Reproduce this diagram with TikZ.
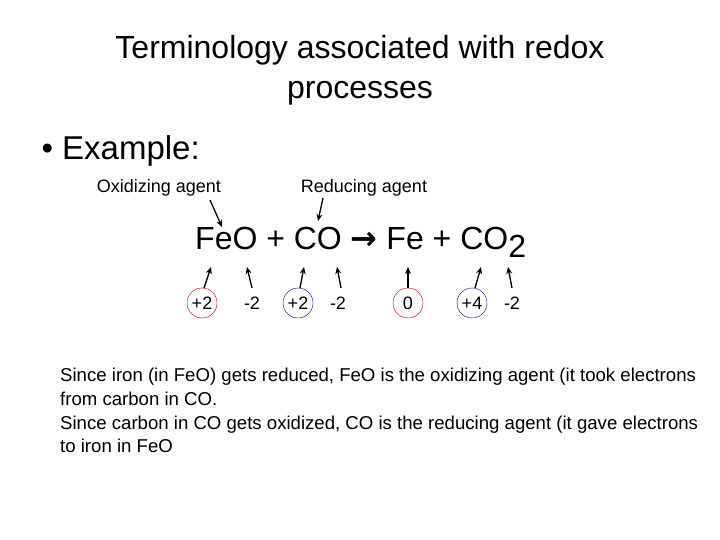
\documentclass[tikz,border=0pt]{standalone}
\usepackage{fontspec}
\setmainfont{Liberation Sans}
\newfontfamily\symfont{DejaVu Sans}
\usetikzlibrary{arrows.meta}
\tikzset{
	ox/.style={font=\fontsize{18}{20}\selectfont,inner sep=1pt},
	ring/.style={ox,circle,draw,minimum size=30pt},
	pt/.style={-{Stealth[length=7pt,width=6pt]},line width=1.3pt},
}
\begin{document}
\begin{tikzpicture}[x=1pt,y=-1pt]
	\useasboundingbox (0,0) rectangle (720,540);
	% Title
	\node[align=center,font=\fontsize{32}{40}\selectfont] (title) at (360,70) {Terminology associated with redox\\processes};
	\node[anchor=west,font=\fontsize{33}{35}\selectfont] (ex) at (38,151) {\textbullet\ Example:};
	
	% Agents
	\node[ox] (oxag) at (159,188) {Oxidizing agent};
	\node[ox] (redag) at (364,188) {Reducing agent};
	
	% Equation
	\node[anchor=base west,inner sep=0,font=\fontsize{32}{34}\selectfont] (eq) at (195,249)
		{FeO + CO {\symfont\bfseries\fontsize{32}{34}\selectfont →} Fe + CO\raisebox{-8pt}{2}};
	\coordinate (feo) at (222,227);
	\coordinate (co) at (318,221);
	\draw[pt] (210,200) -- (feo);
	\draw[pt] (323,198) -- (co);
	
	% Oxidation numbers
	\node[ring,red!70!black] (a) at (202,303) {\textcolor{black}{+2}};
	\node[ox] (b) at (252,303) {-2};
	\node[ring,blue!50!black] (c) at (298,303) {\textcolor{black}{+2}};
	\node[ox] (d) at (338,303) {-2};
	\node[ring,red!70!black] (e) at (408,303) {\textcolor{black}{0}};
	\node[ring,blue!50!black] (f) at (472,303) {\textcolor{black}{+4}};
	\node[ox] (g) at (512,303) {-2};
	\foreach \n/\x/\y/\tx in {a/211/204/ta,b/247/252/tb,c/304/300/tc,d/337/341/td,e/408/408/te,f/481/475/tf,g/508/512/tg}
		\draw[pt] (\y,288) -- (\x,267);
	
	% Explanation
	\node[anchor=north west,align=left,inner sep=0,font=\fontsize{18.6}{23.7}\selectfont] (txt) at (60,368)
		{Since iron (in FeO) gets reduced, FeO is the oxidizing agent (it took electrons\\
		 from carbon in CO.\\
		 Since carbon in CO gets oxidized, CO is the reducing agent (it gave electrons\\
		 to iron in FeO};
\end{tikzpicture}
\end{document}
